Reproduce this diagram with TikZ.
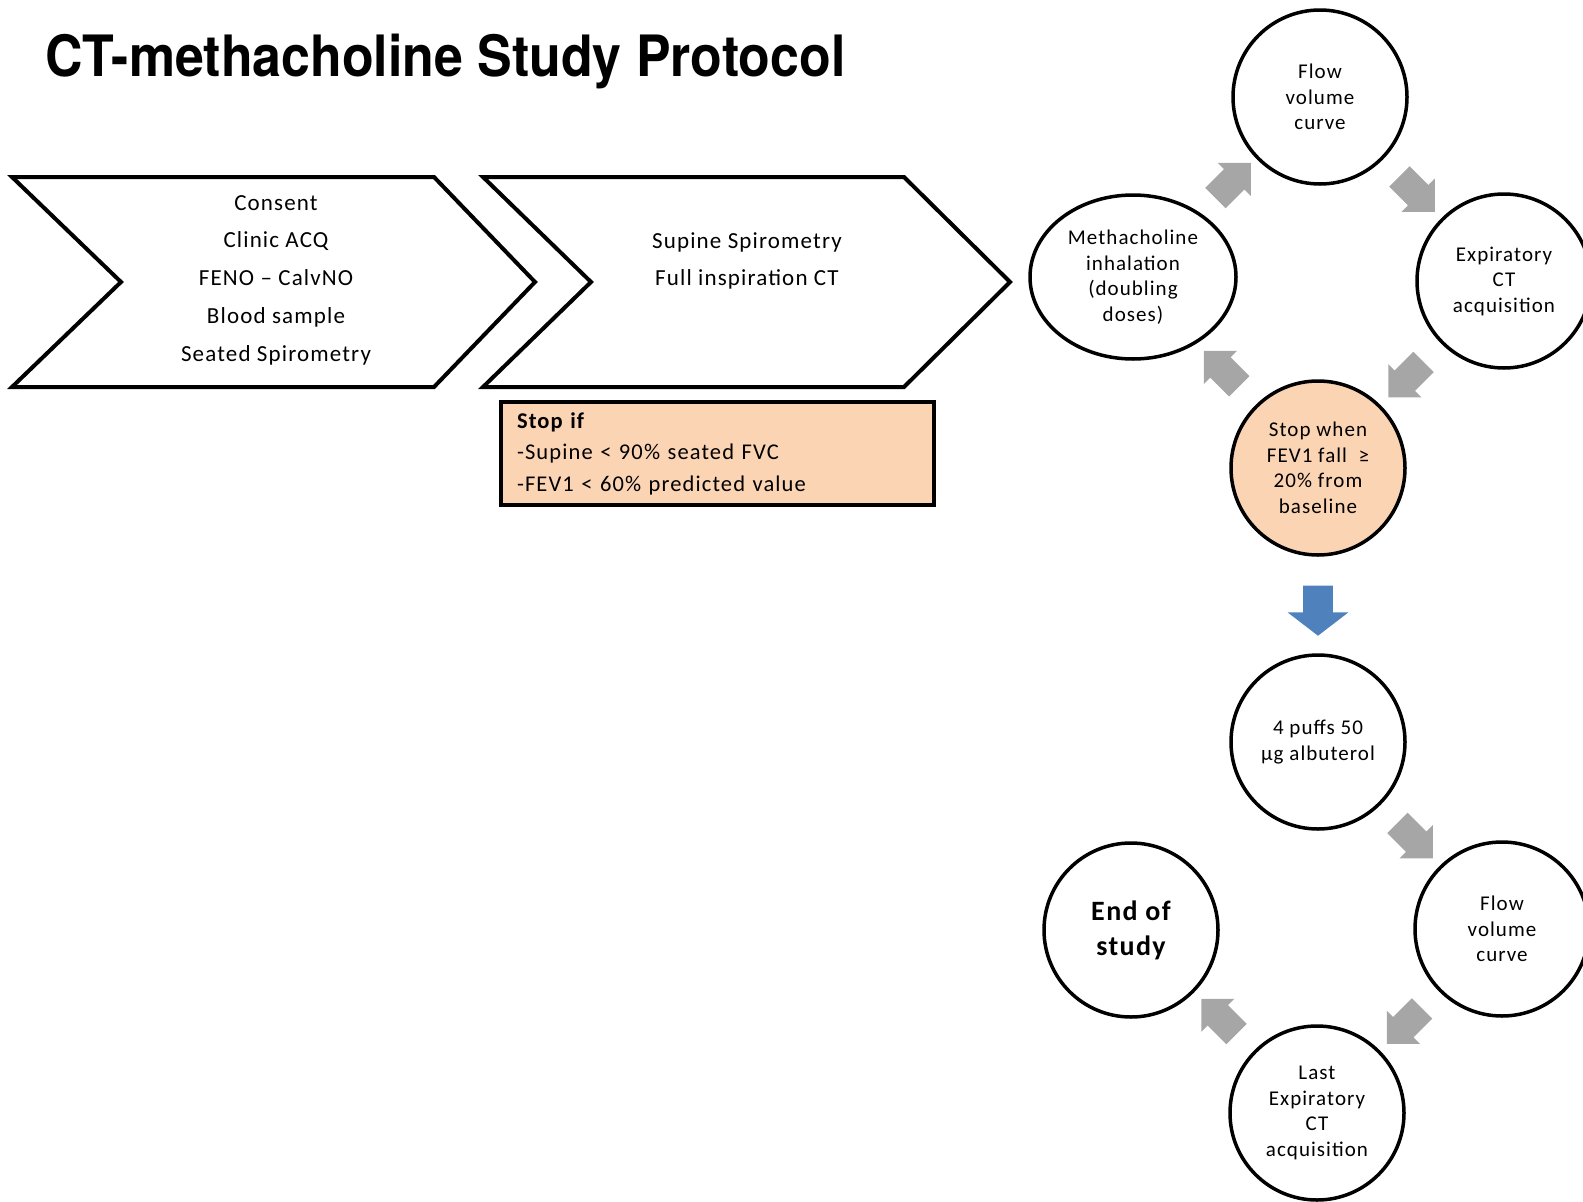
\documentclass[tikz,border=0pt]{standalone}
\usepackage{fontspec}
\usepackage{graphicx}
\setmainfont{Carlito}[LetterSpace=5]
\newfontfamily\titlefont{TeX Gyre Heros}
\usetikzlibrary{shapes.arrows,shapes.geometric}

\definecolor{peach}{RGB}{251,212,180}
\definecolor{arrowgray}{RGB}{166,166,166}
\definecolor{officeblue}{RGB}{79,129,189}

\tikzset{every picture/.style={line width=0.75pt}}
\tikzset{
  chevron/.style={draw, line width=4pt, line join=miter},
  chevtext/.style={align=center, font=\fontsize{23}{37.7}\selectfont},
  stepcircle/.style={circle, draw, fill=white, line width=3.5pt, minimum size=174pt, inner sep=0pt, align=center, font=\fontsize{21}{25.5}\selectfont},
  stopbox/.style={draw, line width=3.5pt, fill=peach, minimum width=433pt, minimum height=103pt, text width=401pt, inner xsep=16pt, align=left, font=\fontsize{22.5}{31.5}\selectfont},
  cyclearrow/.style={single arrow, fill=arrowgray, draw=none, minimum height=50pt, inner xsep=0pt, inner ysep=14pt, single arrow head extend=9pt},
  downarrow/.style={single arrow, fill=officeblue, draw=none, minimum height=50pt, inner xsep=0pt, inner ysep=14.5pt, single arrow head extend=15.5pt, single arrow tip angle=105}
}

\begin{document}
\begin{tikzpicture}[x=1pt,y=1pt,yscale=-1]
\useasboundingbox (0,0) rectangle (1583,1202);

% Title
\node[anchor=base west, inner sep=0pt, font=\titlefont\bfseries\fontsize{57}{60}\selectfont] (title) at (45,76) {\scalebox{0.91}[1]{CT-methacholine Study Protocol}};

%Shape: Chevron
\draw[chevron] (12,177) -- (434,177) -- (535,282) -- (434,387) -- (12,387) -- (121,282) -- cycle;
%Shape: Chevron
\draw[chevron] (483,177) -- (904,177) -- (1010,282) -- (904,387) -- (483,387) -- (591,282) -- cycle;

% Text Node
\node[chevtext] (visitone) at (276,280) {Consent\\Clinic ACQ\\FENO -- CalvNO\\Blood sample\\Seated Spirometry};
% Text Node
\node[chevtext] (visittwo) at (747,261) {Supine Spirometry\\Full inspiration CT};

% Stop box
\node[stopbox] (stopif) at (717.5,453.5) {\textbf{Stop if}\\-Supine < 90\% seated FVC\\-FEV1 < 60\% predicted value};

% Methacholine cycle
\node[stepcircle] (flowa) at (1320,97) {Flow\\volume\\curve};
\node[stepcircle] (expa) at (1504,281) {Expiratory\\CT\\acquisition};
\node[stepcircle, fill=peach] (stopwhen) at (1318,468) {Stop when\\FEV1 fall \ ≥\\20\% from\\baseline};
\node[stepcircle, ellipse, minimum width=206pt, minimum height=164pt] (metha) at (1133,277) {Methacholine\\inhalation\\(doubling\\doses)};

\path (metha) -- (flowa) node[midway, cyclearrow, rotate=45] (ca1) {};
\path (flowa) -- (expa) node[midway, cyclearrow, rotate=-45] (ca2) {};
\path (expa) -- (stopwhen) node[midway, cyclearrow, rotate=-135] (ca3) {};
\path (stopwhen) -- (metha) node[midway, cyclearrow, rotate=135] (ca4) {};

% Albuterol cycle
\node[stepcircle] (puffs) at (1318,742) {4 puffs 50\\µg albuterol};
\node[stepcircle] (flowb) at (1502,929) {Flow\\volume\\curve};
\node[stepcircle] (lastct) at (1317,1113) {Last\\Expiratory\\CT\\acquisition};
\node[stepcircle, font=\bfseries\fontsize{28}{35}\selectfont] (endstudy) at (1131,930) {End of\\study};

\path (stopwhen) -- (puffs) node[midway, downarrow, rotate=-90] (bluedown) {};

\path (puffs) -- (flowb) node[midway, cyclearrow, rotate=-45] (cb1) {};
\path (flowb) -- (lastct) node[midway, cyclearrow, rotate=-135] (cb2) {};
\path (lastct) -- (endstudy) node[midway, cyclearrow, rotate=135] (cb3) {};

\end{tikzpicture}
\end{document}
